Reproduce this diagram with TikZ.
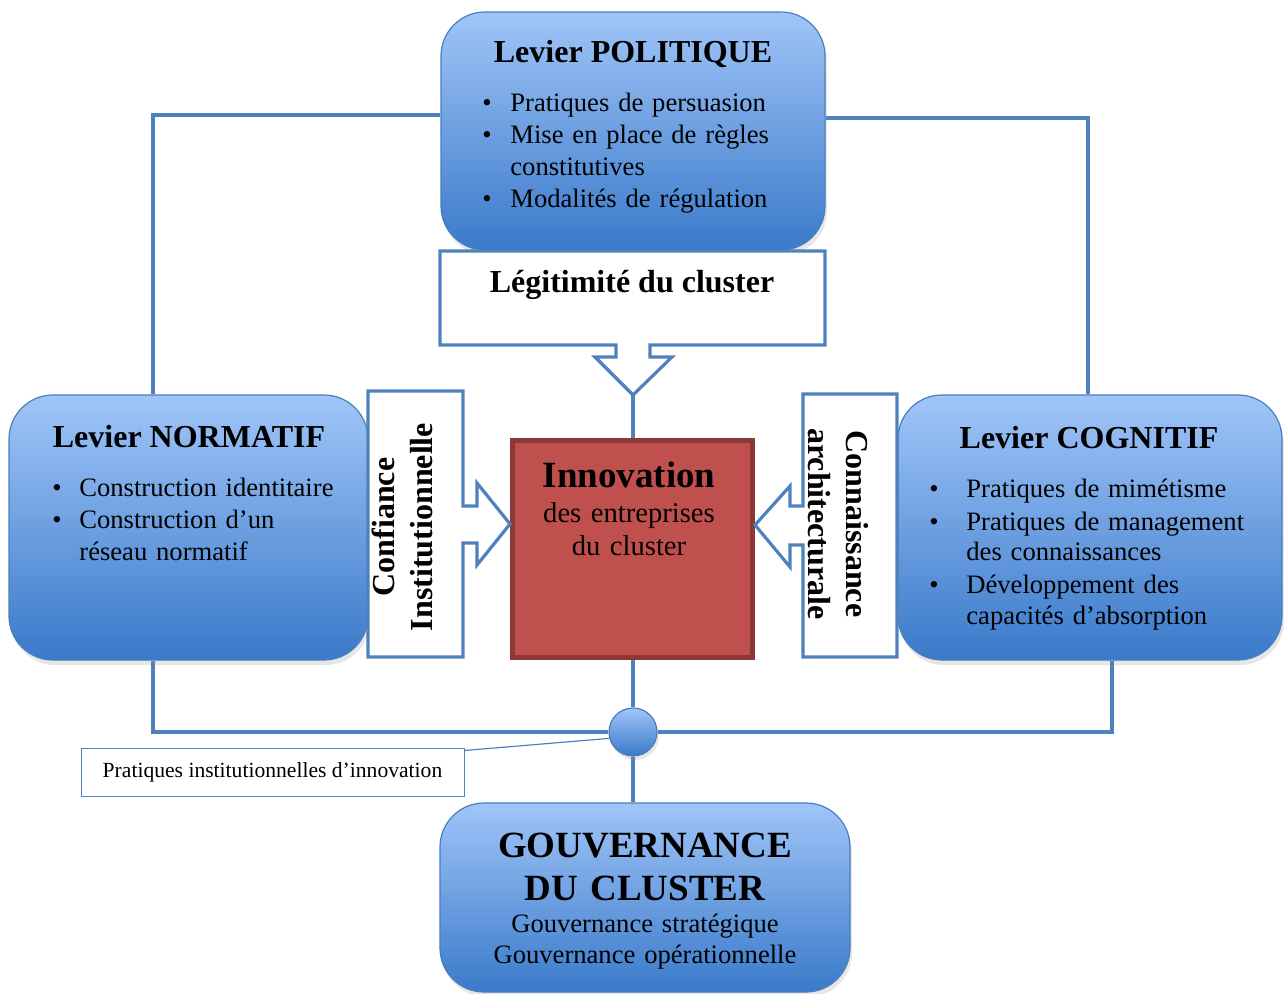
\documentclass[tikz,border=0pt]{standalone}
\usepackage{fontspec}
\setmainfont{Liberation Serif}
\usepackage{xcolor}
\usepackage{tikz}
\usetikzlibrary{positioning, shadows, backgrounds}
\definecolor{levhaut}{RGB}{160,197,248}
\definecolor{levbas}{RGB}{58,122,202}
\definecolor{levbord}{RGB}{74,126,187}
\definecolor{lien}{RGB}{79,129,189}
\definecolor{innorouge}{RGB}{192,80,77}
\definecolor{innobord}{RGB}{140,56,54}
\newlength{\retrait}
\newcommand{\puce}[1]{\hangindent=\retrait\hangafter=1\noindent\makebox[\retrait][l]{\textbullet}#1\par}
\newcommand{\fTitre}{\fontsize{16}{19}\selectfont\bfseries}
\newcommand{\fCorps}{\fontsize{13.3}{16}\selectfont}

\begin{document}
\begin{tikzpicture}[x=0.5pt, y=-0.5pt,
  levier/.style={draw=levbord, line width=0.6pt, rounded corners=22pt, top color=levhaut, bottom color=levbas, drop shadow={opacity=0.2, shadow xshift=1pt, shadow yshift=-2.5pt}},
  lien/.style={draw=lien, line width=2pt},
  fleche/.style={draw=lien, line width=1.6pt, fill=white, line join=miter},
  liste/.style={anchor=base west, inner sep=0pt, text width=#1, align=left, font=\fCorps},
  titre/.style={anchor=base, inner sep=0pt, font=\fTitre}]
\useasboundingbox (0,0) rectangle (1284,994);
\node [levier, minimum width=192pt, minimum height=119pt] (pol) at (633,131) {};
\node [levier, minimum width=179.5pt, minimum height=132.5pt] (norm) at (188.5,527.5) {};
\node [levier, minimum width=192pt, minimum height=132.5pt] (cog) at (1090,527.5) {};
\node [levier, minimum width=205pt, minimum height=94.5pt] (gouv) at (645,897.5) {};
\node [draw=innobord, line width=2.5pt, fill=innorouge, minimum width=120pt, minimum height=108.5pt] (inno) at (632.5,549) {};
\node [circle, draw=levbord, line width=0.6pt, top color=levhaut, bottom color=levbas, minimum size=24pt, inner sep=0pt, drop shadow={opacity=0.2, shadow xshift=1pt, shadow yshift=-2pt}] (hub) at (633,732) {};
\node [draw=lien, line width=0.5pt, fill=white, minimum width=191.5pt, minimum height=24pt, font=\fontsize{10.8}{13}\selectfont] (pratiques) at (272.5,772) {Pratiques institutionnelles d’innovation};

\draw [fleche] (440,251) -- (825,251) -- (825,345) -- (650,345) -- (650,357) -- (672,357) -- (633,395) coordinate (legpointe) -- (595,357) -- (616,357) -- (616,345) -- (440,345) -- cycle;
\draw [fleche] (368,391) -- (463,391) -- (463,506) -- (477,506) -- (477,483) -- (510,524) -- (477,565) -- (477,543) -- (463,543) -- (463,657) -- (368,657) -- cycle;
\draw [fleche] (803,394) -- (897,394) -- (897,657) -- (803,657) -- (803,545) -- (790,545) -- (790,567) -- (755,525) -- (790,486) -- (790,506) -- (803,506) -- cycle;

\node [titre] (poltitre) at (633,63) {Levier POLITIQUE};
\node [liste=180pt] (polliste) at (482,112) {\setlength{\retrait}{14pt}\puce{Pratiques de persuasion}\puce{Mise en place de règles\newline constitutives}\puce{Modalités de régulation}};
\node [titre] (normtitre) at (189,447) {Levier NORMATIF};
\node [liste=170pt] (normliste) at (52,496) {\setlength{\retrait}{13.5pt}\puce{Construction identitaire}\puce{Construction d’un\newline réseau normatif}};
\node [titre] (cogtitre) at (1089,448) {Levier COGNITIF};
\node [liste=170pt, font=\fontsize{13.3}{15.2}\selectfont] (cogliste) at (929,497) {\setlength{\retrait}{18.5pt}\setlength{\parskip}{1.4pt}\puce{Pratiques de mimétisme}\puce{Pratiques de management\newline des connaissances}\puce{Développement des\newline capacités d’absorption}};
\node [titre] (legtitre) at (632,293) {Légitimité du cluster};
\node [font=\fTitre, align=center, rotate=90, inner sep=0pt] (confiance) at (402,527) {Confiance\\Institutionnelle};
\node [font=\fTitre, align=center, rotate=-90, inner sep=0pt] (connaissance) at (838,524) {Connaissance\\architecturale};
\node [titre, font=\fontsize{18.5}{22}\selectfont\bfseries] (innotitre) at (629,487) {Innovation};
\node [anchor=base, inner sep=0pt, text width=115pt, align=center, font=\fontsize{14.3}{16.5}\selectfont] (innotexte) at (629,522) {des entreprises\\du cluster};
\node [anchor=base, inner sep=0pt, text width=200pt, align=center, font=\fontsize{18.5}{21.5}\selectfont\bfseries] (gouvtitre) at (645,857) {GOUVERNANCE\\DU CLUSTER};
\node [anchor=base, inner sep=0pt, text width=200pt, align=center, font=\fontsize{13.3}{15.5}\selectfont] (gouvtexte) at (645,932) {Gouvernance stratégique\\Gouvernance opérationnelle};

\begin{scope}[on background layer]
\draw [lien] (pol.west |- 0,115) -| (norm.north -| 153,0);
\draw [lien] (pol.east |- 0,118) -| (cog.north -| 1088,0);
\draw [lien] (norm.south -| 153,0) |- (hub.west);
\draw [lien] (hub.east) -| (cog.south -| 1112,0);
\draw [lien] (legpointe) -- (legpointe |- inno.north);
\draw [lien] (hub.north |- inno.south) -- (hub.north);
\draw [lien] (hub.south) -- (hub.south |- gouv.north);
\end{scope}
\draw [draw=lien, line width=0.6pt] ([yshift=-1.5pt]pratiques.north east) -- (hub.195);
\end{tikzpicture}
\end{document}
